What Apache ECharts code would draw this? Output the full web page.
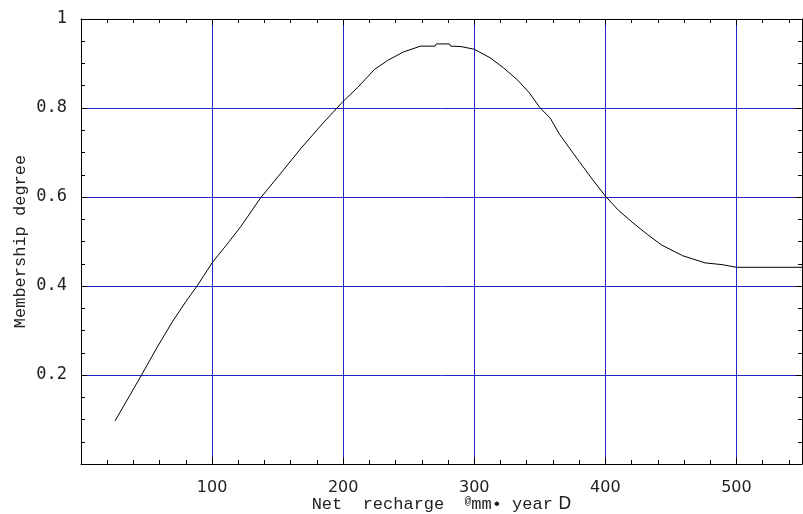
<!DOCTYPE html>
<html lang="en">
<head>
    <meta charset="UTF-8">
    <script src="https://cdn.jsdelivr.net/npm/echarts@6/dist/echarts.min.js"></script>
    <title>Membership degree vs net recharge</title>
    <style>
        html, body { margin: 0; padding: 0; background: #ffffff; }
        #chart { width: 803px; height: 514px; }
    </style>
</head>
<body>
    <div id="chart"></div>
    <script>
        // values
        var recharge = [26, 36, 46, 58, 70, 80, 89, 100, 112, 122, 137, 152, 168, 184, 200, 211, 224, 234, 246, 259,
                        270, 271, 281, 282, 290, 300, 312, 322, 333, 342, 350, 358, 365, 380, 390, 400, 410, 421,
                        432, 443, 459, 476, 489, 500, 550];
        var membership = [0.097, 0.148, 0.199, 0.262, 0.321, 0.365, 0.402, 0.452, 0.496, 0.534, 0.598, 0.652, 0.710,
                          0.764, 0.815, 0.846, 0.887, 0.907, 0.926, 0.939, 0.939, 0.944, 0.944, 0.939, 0.938, 0.932,
                          0.913, 0.891, 0.863, 0.834, 0.801, 0.777, 0.741, 0.680, 0.640, 0.602, 0.570, 0.542, 0.516,
                          0.492, 0.468, 0.452, 0.448, 0.442, 0.442];
        var xTicks = [100, 200, 300, 400, 500];
        var yTicks = [0.2, 0.4, 0.6, 0.8, 1];

        var chart = echarts.init(document.getElementById('chart'));

        var gridBlue = '#2424c4';
        var tickColor = '#000';

        function frameAxis(extra) {
            var base = {
                type: 'value',
                axisLine: { show: true, onZero: false, lineStyle: { color: '#000', width: 1 } },
                axisTick: { show: true, inside: true, length: 6, lineStyle: { color: tickColor } },
                minorTick: { show: true, length: 3, lineStyle: { color: tickColor } },
                splitLine: { show: false },
                axisLabel: { show: false }
            };
            return Object.assign(base, extra);
        }

        var option = {
            backgroundColor: '#ffffff',
            animation: false,
            grid: { left: 81, right: 1, top: 19, bottom: 50, outerBoundsMode: 'none', containLabel: false },
            xAxis: [
                frameAxis({
                    min: 0, max: 550, interval: 100,
                    minorTick: { show: true, splitNumber: 5, length: 4, lineStyle: { color: tickColor } },
                    splitLine: {
                        show: true,
                        lineStyle: { color: gridBlue, width: 1 }
                    },
                    axisLabel: {
                        show: true, showMinLabel: false, showMaxLabel: false,
                        margin: 16, color: '#222', fontFamily: 'DejaVu Sans', fontSize: 16,
                        formatter: function (v) { return xTicks.indexOf(v) >= 0 ? String(v) : ''; }
                    },
                    name: '{a|Net  recharge  }{b|@}{a|mm•}{a| year}{c| D}',
                    nameLocation: 'middle',
                    nameGap: 32,
                    nameMoveOverlap: false,
                    nameTextStyle: {
                        rich: {
                            a: { fontFamily: 'Liberation Mono', fontSize: 17, color: '#222' },
                            b: { fontFamily: 'Liberation Mono', fontSize: 11, color: '#222', verticalAlign: 'top' },
                            c: { fontFamily: 'DejaVu Sans', fontSize: 17, color: '#222' }
                        }
                    }
                }),
                frameAxis({
                    position: 'top', min: 0, max: 550, interval: 100,
                    minorTick: { show: true, splitNumber: 5, length: 4, lineStyle: { color: tickColor } }
                })
            ],
            yAxis: [
                frameAxis({
                    min: 0, max: 1, interval: 0.2,
                    minorTick: { show: true, splitNumber: 4, length: 4, lineStyle: { color: tickColor } },
                    splitLine: {
                        show: true,
                        lineStyle: { color: gridBlue, width: 1 }
                    },
                    axisLabel: {
                        show: true, showMinLabel: false,
                        margin: 14, color: '#222', fontFamily: 'DejaVu Sans Mono', fontSize: 17,
                        formatter: function (v) {
                            var t = yTicks.filter(function (y) { return Math.abs(y - v) < 1e-9; });
                            if (!t.length) return '';
                            return v === 1 ? '1' : v.toFixed(1);
                        }
                    },
                    name: 'Membership degree',
                    nameLocation: 'middle',
                    nameGap: 52,
                    nameMoveOverlap: false,
                    nameTextStyle: { fontFamily: 'Liberation Mono', fontSize: 17, color: '#222' }
                }),
                frameAxis({
                    position: 'right', min: 0, max: 1, interval: 0.2,
                    minorTick: { show: true, splitNumber: 4, length: 4, lineStyle: { color: tickColor } }
                })
            ],
            series: [{
                type: 'line',
                data: recharge.map(function (x, i) { return [x, membership[i]]; }),
                showSymbol: false,
                smooth: false,
                lineStyle: { color: '#000', width: 1 },
                z: 5
            }]
        };

        chart.setOption(option);
    </script>
</body>
</html>
